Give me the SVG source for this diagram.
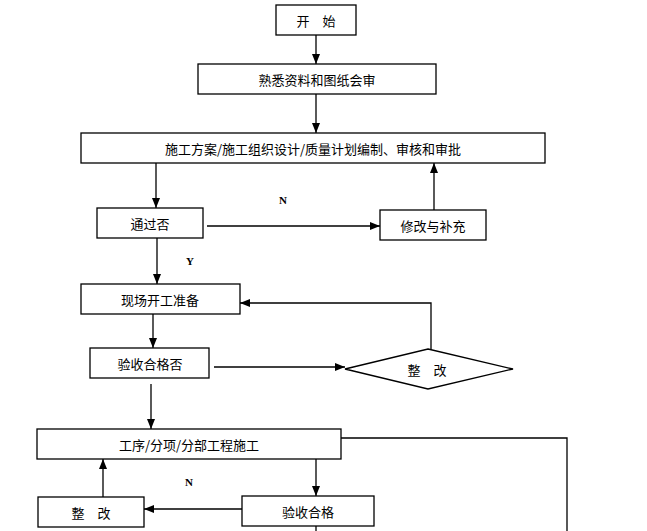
<svg xmlns="http://www.w3.org/2000/svg" width="647" height="531" viewBox="0 0 647 531">
<style>
.box{fill:#fff;stroke:#000;stroke-width:1.3}
.t{font-family:"Noto Sans CJK SC","Noto Sans",sans-serif;font-size:13px;fill:#000;text-anchor:middle;dominant-baseline:central}
.lbl{font-family:"Liberation Serif",serif;font-size:11px;font-weight:bold;fill:#000;text-anchor:middle;dominant-baseline:central}
.c{fill:none;stroke:#000;stroke-width:1.3}
</style>
<defs>
<marker id="ah" markerUnits="userSpaceOnUse" markerWidth="10" markerHeight="10" viewBox="0 0 10 10" refX="10" refY="5" orient="auto">
<path d="M0,1 L10,5 L0,9 Z" fill="#000"/>
</marker>
</defs>
<rect width="647" height="531" fill="#fff"/>
<g id="connectors">
<line class="c" x1="316" y1="35" x2="316" y2="64" marker-end="url(#ah)"/>
<line class="c" x1="316" y1="94" x2="316" y2="133" marker-end="url(#ah)"/>
<line class="c" x1="156" y1="163" x2="156" y2="208" marker-end="url(#ah)"/>
<line class="c" x1="207" y1="226" x2="380" y2="226" marker-end="url(#ah)"/>
<line class="c" x1="434" y1="210" x2="434" y2="163" marker-end="url(#ah)"/>
<line class="c" x1="157" y1="238" x2="157" y2="284" marker-end="url(#ah)"/>
<polyline class="c" points="431,349 431,303 240,303" stroke-width="1" marker-end="url(#ah)"/>
<line class="c" x1="153" y1="314" x2="153" y2="348" marker-end="url(#ah)"/>
<line class="c" x1="214" y1="367" x2="345" y2="367" marker-end="url(#ah)"/>
<line class="c" x1="151" y1="384" x2="151" y2="429" marker-end="url(#ah)"/>
<line class="c" x1="316" y1="459" x2="316" y2="496" marker-end="url(#ah)"/>
<line class="c" x1="242" y1="509" x2="144" y2="509" marker-end="url(#ah)"/>
<line class="c" x1="103" y1="497" x2="103" y2="459" marker-end="url(#ah)"/>
<polyline class="c" points="341,438 567,438 567,531"/>
<line class="c" x1="316" y1="526" x2="316" y2="531"/>
<text class="lbl" x="283" y="200">N</text>
<text class="lbl" x="190" y="261">Y</text>
<text class="lbl" x="189" y="482">N</text>
</g>
<g id="start"><rect class="box" x="276" y="5" width="80" height="30"/><text class="t" x="316" y="20">开　始</text></g>
<g id="review"><rect class="box" x="198" y="64" width="238" height="30"/><text class="t" x="317" y="79">熟悉资料和图纸会审</text></g>
<g id="plan"><rect class="box" x="81" y="133" width="464" height="30"/><text class="t" x="313" y="148">施工方案/施工组织设计/质量计划编制、审核和审批</text></g>
<g id="pass"><rect class="box" x="97" y="208" width="106" height="30"/><text class="t" x="150" y="223">通过否</text></g>
<g id="modify"><rect class="box" x="380" y="210" width="106" height="30"/><text class="t" x="433" y="225">修改与补充</text></g>
<g id="prepare"><rect class="box" x="81" y="284" width="159" height="30"/><text class="t" x="160" y="299">现场开工准备</text></g>
<g id="check1"><rect class="box" x="90" y="348" width="119" height="30"/><text class="t" x="150" y="363">验收合格否</text></g>
<g id="fix1"><polygon class="box" points="428,349 513,369 428,389 345,369"/><text class="t" x="427" y="369">整　改</text></g>
<g id="construct"><rect class="box" x="37" y="429" width="304" height="30"/><text class="t" x="189" y="444">工序/分项/分部工程施工</text></g>
<g id="check2"><rect class="box" x="242" y="496" width="132" height="30"/><text class="t" x="308" y="511">验收合格</text></g>
<g id="fix2"><rect class="box" x="38" y="497" width="106" height="30"/><text class="t" x="91" y="512">整　改</text></g>
</svg>
